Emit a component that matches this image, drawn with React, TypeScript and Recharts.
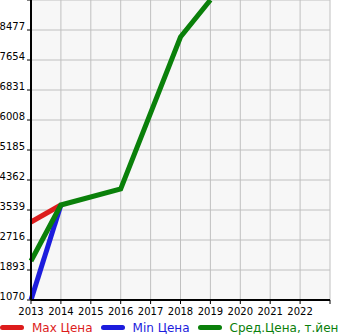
import { LineChart, Line, XAxis, YAxis, CartesianGrid, Legend } from 'recharts';

const YEARS = [2013, 2014, 2016, 2018, 2019];
const MAX_PRICE = [3210, 3676, null, null, null];
const MIN_PRICE = [1070, 3676, null, null, null];
const AVG_PRICE = [2140, 3676, 4115, 8285, 9300];

const X_TICKS = [2013, 2014, 2015, 2016, 2017, 2018, 2019, 2020, 2021, 2022, 2023];
const Y_TICKS = [1070, 1893, 2716, 3539, 4362, 5185, 6008, 6831, 7654, 8477, 9300];

const SERIES = [
  { key: 'max', name: 'Max Цена', color: '#dd1c1c' },
  { key: 'min', name: 'Min Цена', color: '#1c1cdd' },
  { key: 'avg', name: 'Сред.Цена, т.йен', color: '#0a800a' },
];

const data = YEARS.map((year, i) => ({
  year,
  max: MAX_PRICE[i],
  min: MIN_PRICE[i],
  avg: AVG_PRICE[i],
}));

const FONT = 'DejaVu Sans, sans-serif';

function YTick({ x, y, payload }: any) {
  if (payload.value === 9300) return null;
  return (
    <text x={x} y={y} textAnchor="end" fontSize={10} fontFamily={FONT} fill="#000">
      {payload.value}
    </text>
  );
}

function XTick({ x, y, payload }: any) {
  if (payload.value === 2023) return null;
  return (
    <text x={x} y={y + 9} textAnchor="middle" fontSize={10} fontFamily={FONT} fill="#000">
      {payload.value}
    </text>
  );
}

function ChartLegend() {
  return (
    <div
      style={{
        display: 'flex',
        alignItems: 'center',
        boxSizing: 'border-box',
        height: 20,
        paddingTop: 5,
        fontFamily: FONT,
        fontSize: 12,
        lineHeight: '14px',
        whiteSpace: 'nowrap',
      }}
    >
      {SERIES.map((s) => (
        <div key={s.key} style={{ display: 'flex', alignItems: 'center', marginRight: 8 }}>
          <span style={{ display: 'inline-block', width: 24, height: 5, borderRadius: 3, background: s.color, marginRight: 8 }} />
          <span style={{ color: s.color }}>{s.name}</span>
        </div>
      ))}
    </div>
  );
}

export default function App() {
  return (
    <div style={{ position: 'absolute', left: 0, top: 0, background: '#fff' }}>
      <LineChart width={345} height={335} data={data} margin={{ top: 0, right: 15, bottom: 0, left: 0 }}>
        <CartesianGrid stroke="#c0c0c0" strokeWidth={1} fill="#f7f7f7" />
        <XAxis
          dataKey="year"
          type="number"
          domain={[2013, 2023]}
          ticks={X_TICKS}
          height={15}
          tick={<XTick />}
          tickSize={4}
          axisLine={{ stroke: '#000', strokeWidth: 2 }}
          tickLine={{ stroke: '#000' }}
          interval={0}
        />
        <YAxis
          type="number"
          domain={[1070, 9300]}
          ticks={Y_TICKS}
          width={31}
          tick={<YTick />}
          tickSize={4}
          axisLine={{ stroke: '#000', strokeWidth: 2 }}
          tickLine={{ stroke: '#000' }}
          interval={0}
          allowDataOverflow
        />
        <Legend verticalAlign="bottom" content={<ChartLegend />} wrapperStyle={{ left: 0, width: 345, height: 20 }} />
        {SERIES.map((s) => (
          <Line
            key={s.key}
            type="linear"
            dataKey={s.key}
            name={s.name}
            stroke={s.color}
            strokeWidth={5}
            dot={false}
            connectNulls={false}
            isAnimationActive={false}
          />
        ))}
      </LineChart>
    </div>
  );
}
